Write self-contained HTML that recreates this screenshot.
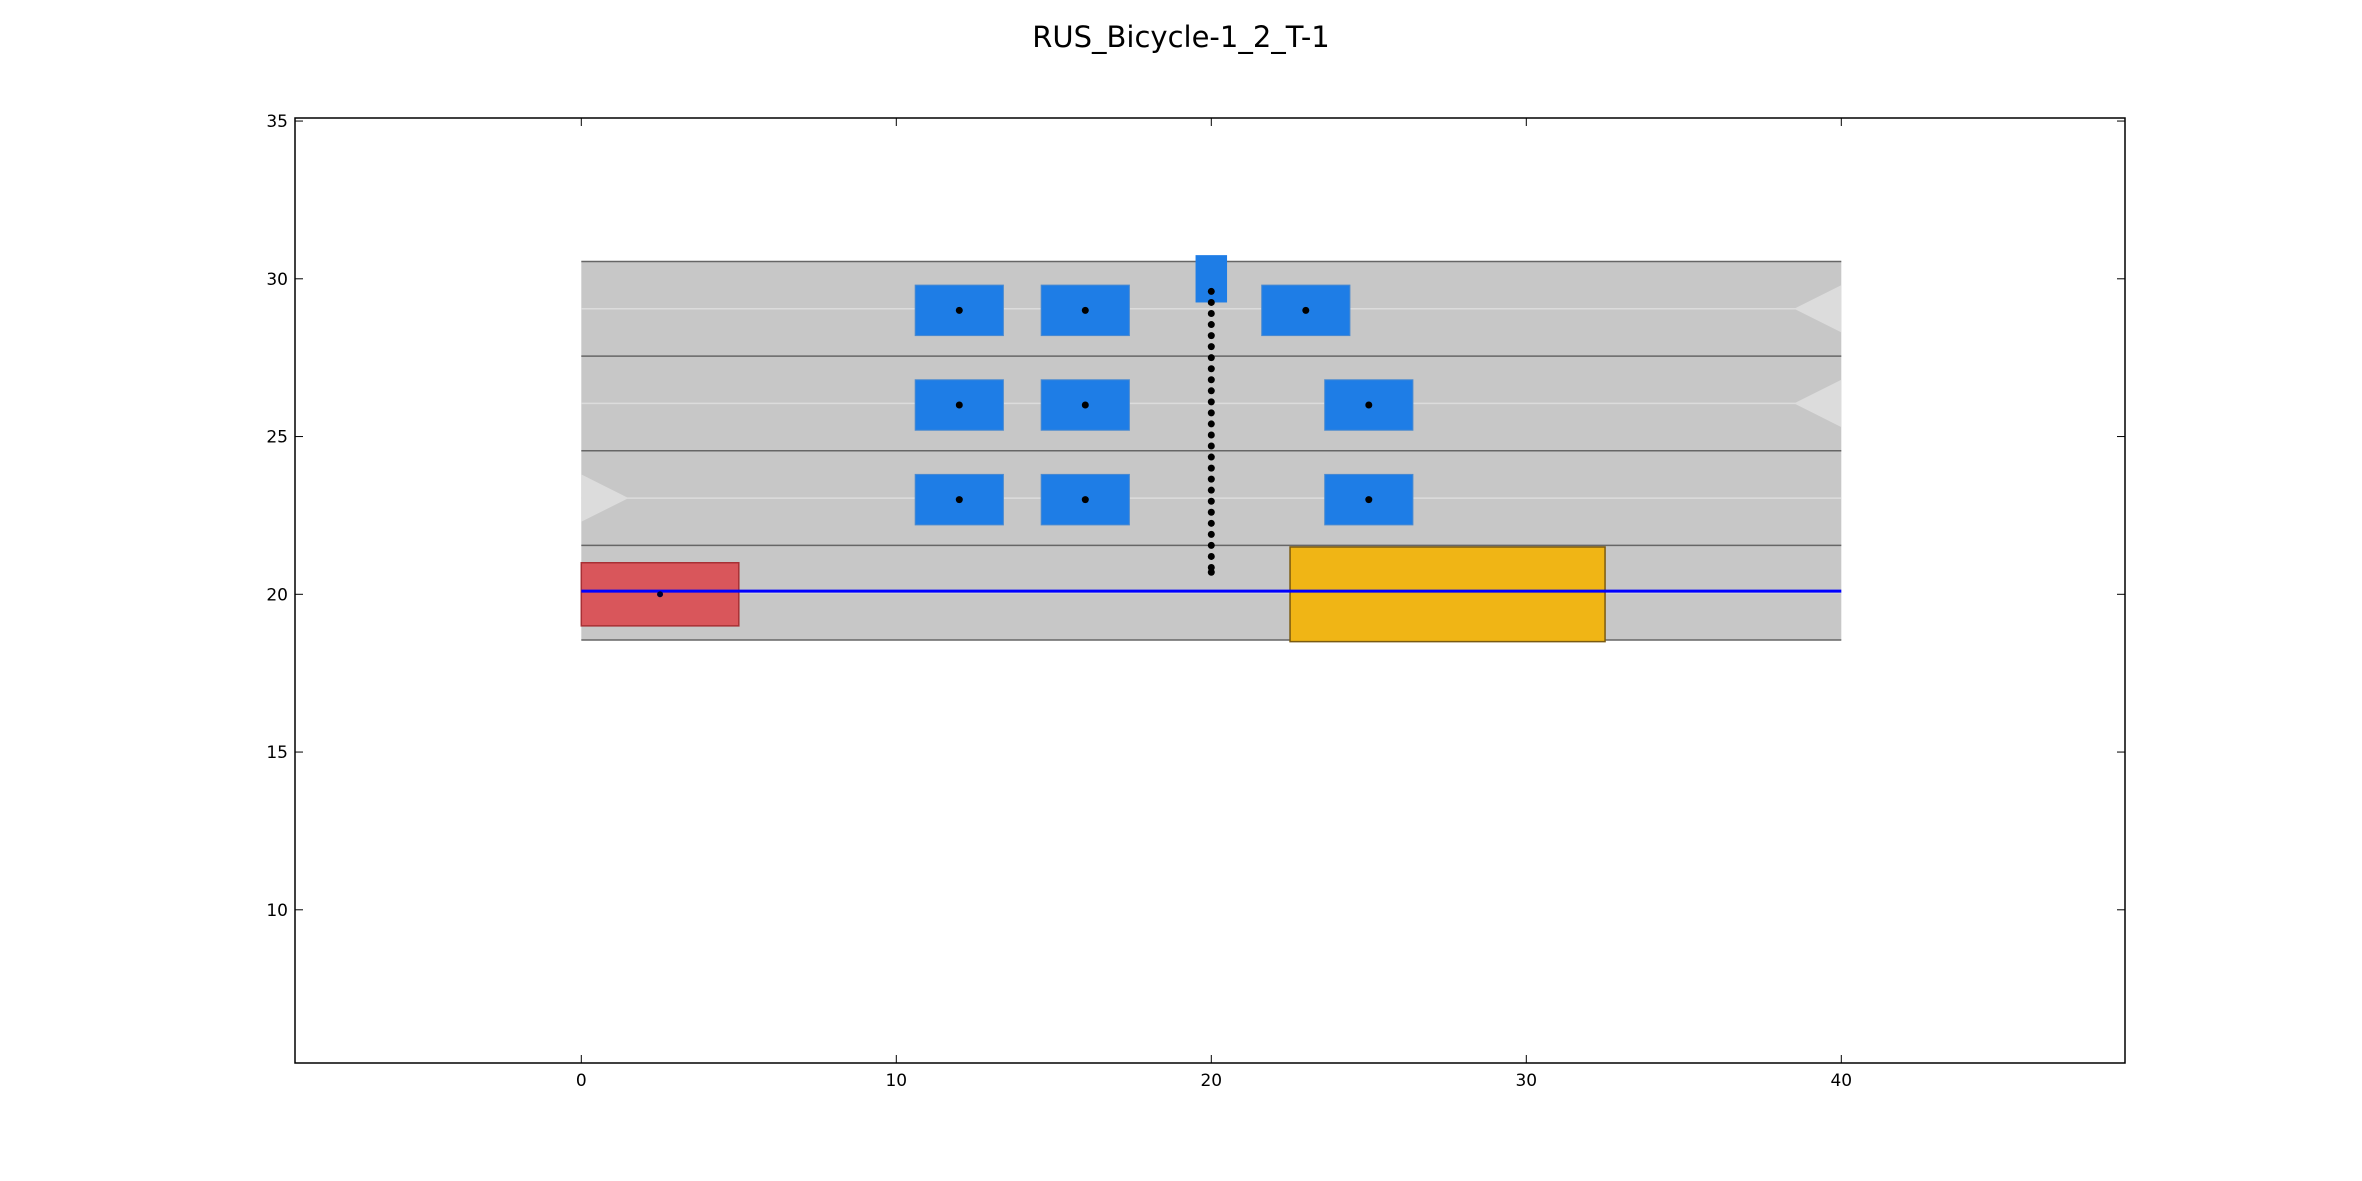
<!DOCTYPE html>
<html><head><meta charset="utf-8"><style>body{margin:0;background:#fff}svg{display:block}text{font-family:"DejaVu Sans","Liberation Sans",sans-serif}</style></head>
<body>
<svg id="c" width="2362" height="1181"></svg>
<script>
const xTicks=[0,10,20,30,40];
const yTicks=[10,15,20,25,30,35];
const laneBounds=[18.55,21.55,24.55,27.55,30.55];
const laneCenters=[20.05,23.05,26.05,29.05];
const carX=[12,16,23,12,16,25,12,16,25];
const carY=[29,29,29,26,26,26,23,23,23];
const bikeDotsY=[29.6,29.25,28.9,28.55,28.2,27.85,27.5,27.15,26.8,26.45,26.1,25.75,25.4,25.05,24.7,24.35,24.0,23.65,23.3,22.95,22.6,22.25,21.9,21.55,21.2,20.85,20.7];
const X=v=>581.3+31.5*v, Y=v=>594.3-31.55*(v-20);
const s=document.getElementById('c');const NS='http://www.w3.org/2000/svg';
function mk(t,a,p){const e=document.createElementNS(NS,t);for(const k in a)e.setAttribute(k,a[k]);(p||s).appendChild(e);return e;}
let e;
e=mk('text',{x:1181,y:47,'text-anchor':'middle','font-size':29});e.textContent='RUS_Bicycle-1_2_T-1';


e=mk('rect',{x:X(0),y:Y(laneBounds[4]),width:X(40)-X(0),height:Y(laneBounds[0])-Y(laneBounds[4]),fill:'#c7c7c7'});


laneBounds.forEach(b=>{e=mk('line',{x1:X(0),x2:X(40),y1:Y(b),y2:Y(b),stroke:'#666','stroke-width':1.5});

});
laneCenters.forEach(c=>{e=mk('line',{x1:X(0),x2:X(40),y1:Y(c),y2:Y(c),stroke:'#dcdcdc','stroke-width':1.5});

});
[[0,23.05,1],[40,29.05,-1],[40,26.05,-1]].forEach(([x,y,d])=>{e=mk('polygon',{points:`${X(x)},${Y(y+0.75)} ${X(x+1.5*d)},${Y(y)} ${X(x)},${Y(y-0.75)}`,fill:'#dcdcdc'});

});
e=mk('rect',{x:X(22.5),y:Y(21.5),width:X(32.5)-X(22.5),height:Y(18.5)-Y(21.5),fill:'#f0b515',stroke:'#7a5a10','stroke-width':1.5});


e=mk('rect',{x:X(0),y:Y(21),width:X(5)-X(0),height:Y(19)-Y(21),fill:'#d9565b',stroke:'#a83035','stroke-width':1.5});


e=mk('line',{x1:X(0),x2:X(40),y1:Y(20.1),y2:Y(20.1),stroke:'#0000ff','stroke-width':3});


e=mk('circle',{cx:X(2.5),cy:Y(20),r:3,fill:'#000033'});


carX.forEach((cx,i)=>{e=mk('rect',{x:X(cx-1.4),y:Y(carY[i]+0.8),width:X(1.4)-X(-1.4),height:Y(-0.8)-Y(0.8),fill:'#1e7de6',stroke:'#4a8ad0','stroke-width':1});


e=mk('circle',{cx:X(cx),cy:Y(carY[i]),r:3.5,fill:'#000'});

});
e=mk('rect',{x:X(19.5),y:Y(30.75),width:X(20.5)-X(19.5),height:Y(29.25)-Y(30.75),fill:'#1e7de6'});


bikeDotsY.forEach(y=>{e=mk('circle',{cx:X(20),cy:Y(y),r:3.5,fill:'#000'});

});
e=mk('rect',{x:295,y:118,width:1830,height:945,fill:'none',stroke:'#000','stroke-width':1.5});


xTicks.forEach(t=>{mk('line',{x1:X(t),x2:X(t),y1:1063,y2:1055,stroke:'#000'});mk('line',{x1:X(t),x2:X(t),y1:118,y2:126,stroke:'#000'});
e=mk('text',{x:X(t),y:1086,'text-anchor':'middle','font-size':17});e.textContent=t;

});
yTicks.forEach(t=>{mk('line',{x1:295,x2:303,y1:Y(t),y2:Y(t),stroke:'#000'});mk('line',{x1:2125,x2:2117,y1:Y(t),y2:Y(t),stroke:'#000'});
e=mk('text',{x:288,y:Y(t)+6,'text-anchor':'end','font-size':17});e.textContent=t;

});
</script>
</body></html>
